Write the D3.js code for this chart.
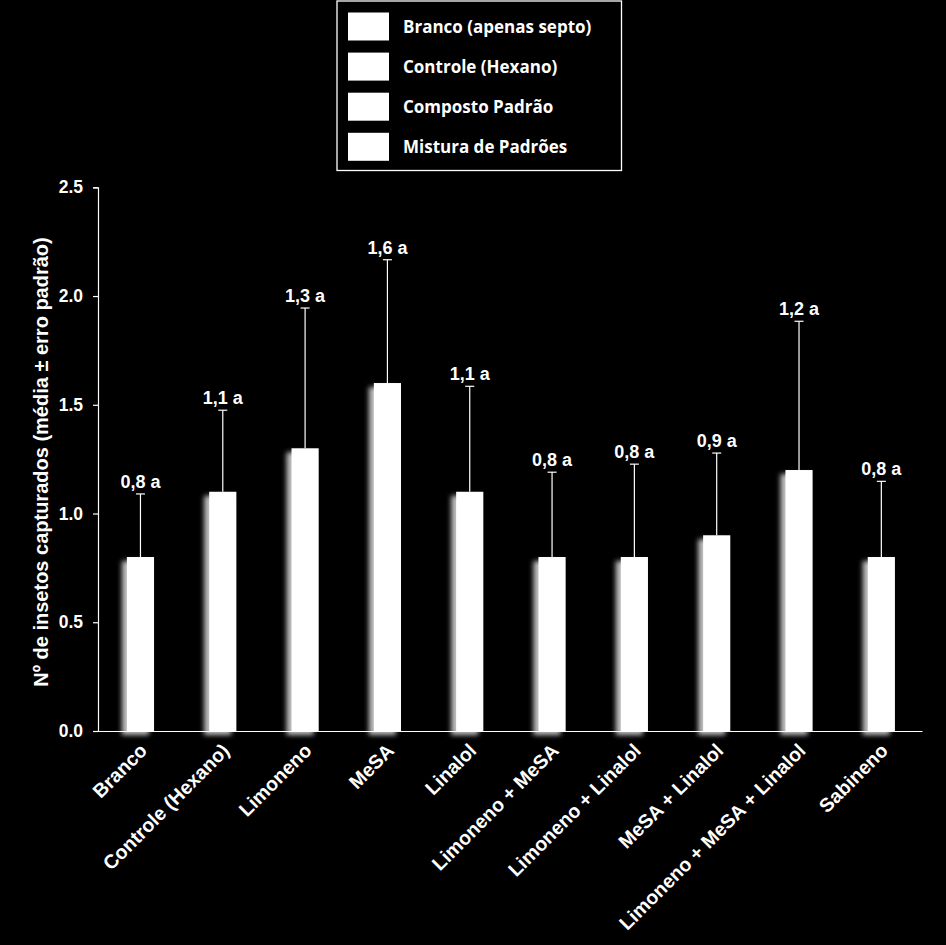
<!DOCTYPE html>
<html>
<head>
<meta charset="utf-8">
<script src="https://cdn.jsdelivr.net/npm/d3@7"></script>
<style>
  html, body { margin: 0; padding: 0; background: #000; }
  svg { display: block; }
</style>
</head>
<body>
<svg id="chart" width="946" height="945"></svg>
<script>
const categories = ["Branco", "Controle (Hexano)", "Limoneno", "MeSA", "Linalol",
  "Limoneno + MeSA", "Limoneno + Linalol", "MeSA + Linalol",
  "Limoneno + MeSA + Linalol", "Sabineno"];
const means = [0.8, 1.1, 1.3, 1.6, 1.1, 0.8, 0.8, 0.9, 1.2, 0.8];
const stdErrors = [0.29, 0.375, 0.645, 0.567, 0.485, 0.39, 0.427, 0.378, 0.684, 0.348];
const valueLabels = ["0,8 a", "1,1 a", "1,3 a", "1,6 a", "1,1 a", "0,8 a", "0,8 a", "0,9 a", "1,2 a", "0,8 a"];
const yTicks = [0, 0.5, 1.0, 1.5, 2.0, 2.5];
const legendItems = ["Branco (apenas septo)", "Controle (Hexano)", "Composto Padrão", "Mistura de Padrões"];
const yTitle = "Nº de insetos capturados (média ± erro padrão)";

const svg = d3.select("#chart");
svg.append("rect").attr("width", 946).attr("height", 945).attr("fill", "#000");

const defs = svg.append("defs");
const f = defs.append("filter").attr("id", "glow")
  .attr("x", "-60%").attr("y", "-10%").attr("width", "220%").attr("height", "130%");
f.append("feGaussianBlur").attr("in", "SourceAlpha").attr("stdDeviation", 2.6).attr("result", "b");
f.append("feOffset").attr("in", "b").attr("dx", -5).attr("dy", 4).attr("result", "o");
f.append("feFlood").attr("flood-color", "#ffffff").attr("flood-opacity", 0.75).attr("result", "c");
f.append("feComposite").attr("in", "c").attr("in2", "o").attr("operator", "in").attr("result", "s");
const fm = f.append("feMerge");
fm.append("feMergeNode").attr("in", "s");
fm.append("feMergeNode").attr("in", "SourceGraphic");

const x = d3.scaleBand().domain(categories).range([99.3, 922.5]).padding(0);
const y = d3.scaleLinear().domain([0, 2.5]).range([731, 187.3]);
const barW = x.bandwidth() * 0.33;

const labelFont = "'Liberation Sans', Arial, sans-serif";

// Y axis
const yAxis = svg.append("g").attr("transform", "translate(98,0)")
  .call(d3.axisLeft(y).tickValues(yTicks).tickFormat(d3.format(".1f")).tickSize(5).tickPadding(10));
yAxis.select(".domain").attr("stroke", "#fff").attr("stroke-width", 1.2);
yAxis.selectAll(".tick line").attr("stroke", "#fff").attr("stroke-width", 1.2);
yAxis.selectAll(".tick text").attr("fill", "#fff")
  .style("font-family", labelFont).style("font-size", "17.5px").style("font-weight", "bold");

// bars
const g = svg.append("g");
g.selectAll("rect.bar").data(categories).join("rect")
  .attr("class", "bar")
  .attr("x", d => x(d) + x.bandwidth() / 2 - barW / 2)
  .attr("y", (d, i) => y(means[i]))
  .attr("width", barW)
  .attr("height", (d, i) => y(0) - y(means[i]))
  .attr("fill", "#fff")
  .attr("filter", "url(#glow)");

// X axis line
const xAxis = svg.append("g").attr("transform", "translate(0,731)")
  .call(d3.axisBottom(x).tickSize(0).tickFormat(""));
xAxis.select(".domain").attr("stroke", "#fff").attr("stroke-width", 1.2)
  .attr("d", "M98,0.5H922.5");

// error bars
const eb = svg.append("g").attr("stroke", "#fff").attr("stroke-width", 1.2);
categories.forEach((c, i) => {
  const cx = x(c) + x.bandwidth() / 2;
  const top = y(means[i] + stdErrors[i]);
  eb.append("line").attr("x1", cx).attr("x2", cx).attr("y1", y(means[i])).attr("y2", top);
  eb.append("line").attr("x1", cx - 4.5).attr("x2", cx + 4.5).attr("y1", top).attr("y2", top);
});

// value labels
svg.append("g").selectAll("text").data(categories).join("text")
  .attr("x", d => x(d) + x.bandwidth() / 2)
  .attr("y", (d, i) => y(means[i] + stdErrors[i]) - 6)
  .attr("text-anchor", "middle")
  .attr("fill", "#fff")
  .style("font-family", labelFont).style("font-size", "18px").style("font-weight", "bold")
  .text((d, i) => valueLabels[i]);

// category labels
svg.append("g").selectAll("text").data(categories).join("text")
  .attr("transform", d => `translate(${x(d) + x.bandwidth() / 2 + 3},747) rotate(-45)`)
  .attr("text-anchor", "end")
  .attr("dy", "0.35em")
  .attr("fill", "#fff")
  .style("font-family", labelFont).style("font-size", "19.5px").style("font-weight", "bold")
  .text(d => d);

// Y title
svg.append("text")
  .attr("transform", `translate(48,${(731 + 187) / 2 + 3}) rotate(-90)`)
  .attr("text-anchor", "middle")
  .attr("fill", "#fff")
  .style("font-family", labelFont).style("font-size", "20px").style("font-weight", "bold")
  .text(yTitle);

// Legend
const lg = svg.append("g");
lg.append("rect").attr("x", 337).attr("y", 1).attr("width", 284.5).attr("height", 169.5)
  .attr("fill", "#000").attr("stroke", "#fff").attr("stroke-width", 1.3);
const ly = d3.scalePoint().domain(legendItems).range([26.5, 146.8]);
lg.selectAll("rect.sw").data(legendItems).join("rect")
  .attr("class", "sw")
  .attr("x", 348).attr("y", d => ly(d) - 14).attr("width", 41).attr("height", 28)
  .attr("fill", "#fff");
lg.selectAll("text").data(legendItems).join("text")
  .attr("x", 403).attr("y", d => ly(d)).attr("dy", "0.36em")
  .attr("fill", "#fff")
  .style("font-family", "'Open Sans', Lato, sans-serif").style("font-size", "17px").style("font-weight", "bold")
  .text(d => d);
</script>
</body>
</html>
